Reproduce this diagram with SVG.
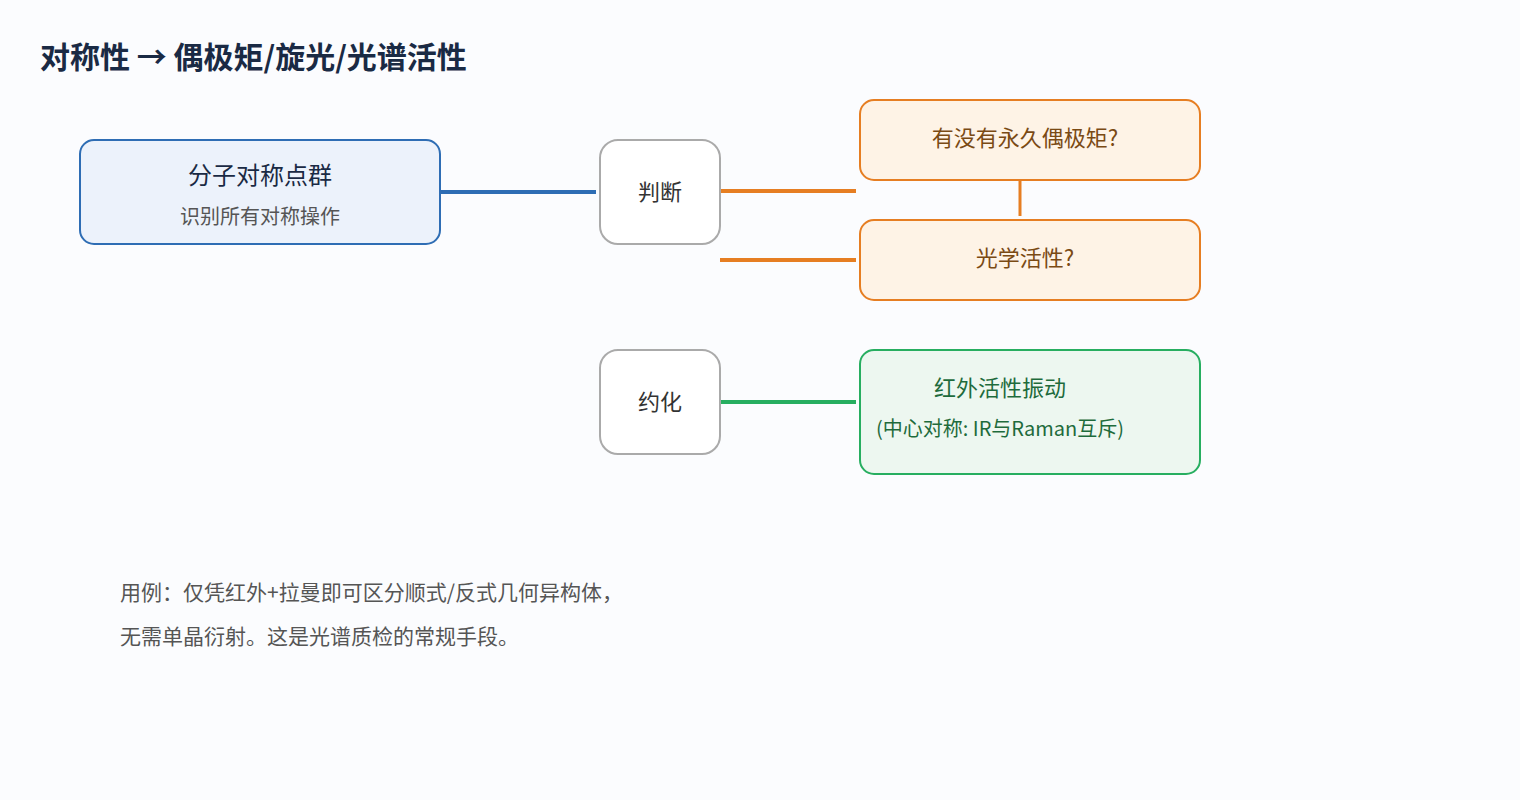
<svg xmlns="http://www.w3.org/2000/svg" width="1520" height="800" viewBox="0 0 1520 800">
<style>
text{font-family:"Noto Sans CJK SC","Noto Sans",sans-serif;text-anchor:middle}
.g{fill:#fff;stroke:#aaaaaa;stroke-width:2}
.o{fill:#fef3e6;stroke:#e67e22;stroke-width:2}
.t{font-size:22px;fill:#333}
.ot{font-size:22px;fill:#7a4a14}
</style>
<rect width="1520" height="800" fill="#fbfcfe"/>
<text x="40" y="68" style="text-anchor:start;font-size:30px;font-weight:bold;fill:#1a2a44">对称性 → 偶极矩/旋光/光谱活性</text>
<g id="connectors" fill="none" stroke-width="4">
<line x1="440" y1="192" x2="596" y2="192" stroke="#2e6db4"/>
<line x1="720" y1="191" x2="856" y2="191" stroke="#e67e22"/>
<line x1="720" y1="260" x2="856" y2="260" stroke="#e67e22"/>
<line x1="1020" y1="180" x2="1020" y2="216" stroke="#e67e22" stroke-width="3"/>
<line x1="720" y1="402" x2="856" y2="402" stroke="#27ae60"/>
</g>
<g id="pointgroup"><rect x="80" y="140" width="360" height="104" rx="14" fill="#ecf2fb" stroke="#2e6db4" stroke-width="2"/>
<text x="260" y="184" class="t" style="font-size:24px;fill:#1a2a44">分子对称点群</text>
<text x="260" y="224" style="font-size:20px;fill:#555">识别所有对称操作</text></g>
<g id="judge"><rect x="600" y="140" width="120" height="104" rx="18" class="g"/><text x="660" y="200" class="t">判断</text></g>
<g id="reduce"><rect x="600" y="350" width="120" height="104" rx="18" class="g"/><text x="660" y="410" class="t">约化</text></g>
<g id="dipole"><rect x="860" y="100" width="340" height="80" rx="14" class="o"/><text x="1025" y="146" class="ot">有没有永久偶极矩?</text></g>
<g id="optical"><rect x="860" y="220" width="340" height="80" rx="14" class="o"/><text x="1025" y="266" class="ot">光学活性?</text></g>
<g id="ir"><rect x="860" y="350" width="340" height="124" rx="14" fill="#edf7f0" stroke="#27ae60" stroke-width="2"/>
<text x="1000" y="396" style="font-size:22px;fill:#1e6b3c">红外活性振动</text>
<text x="1000" y="436" style="font-size:20px;fill:#1e6b3c">(中心对称: IR与Raman互斥)</text></g>
<g id="note" style="font-size:21px;fill:#555">
<text x="120" y="600" style="text-anchor:start">用例：仅凭红外+拉曼即可区分顺式/反式几何异构体，</text>
<text x="120" y="644" style="text-anchor:start">无需单晶衍射。这是光谱质检的常规手段。</text></g>
</svg>
